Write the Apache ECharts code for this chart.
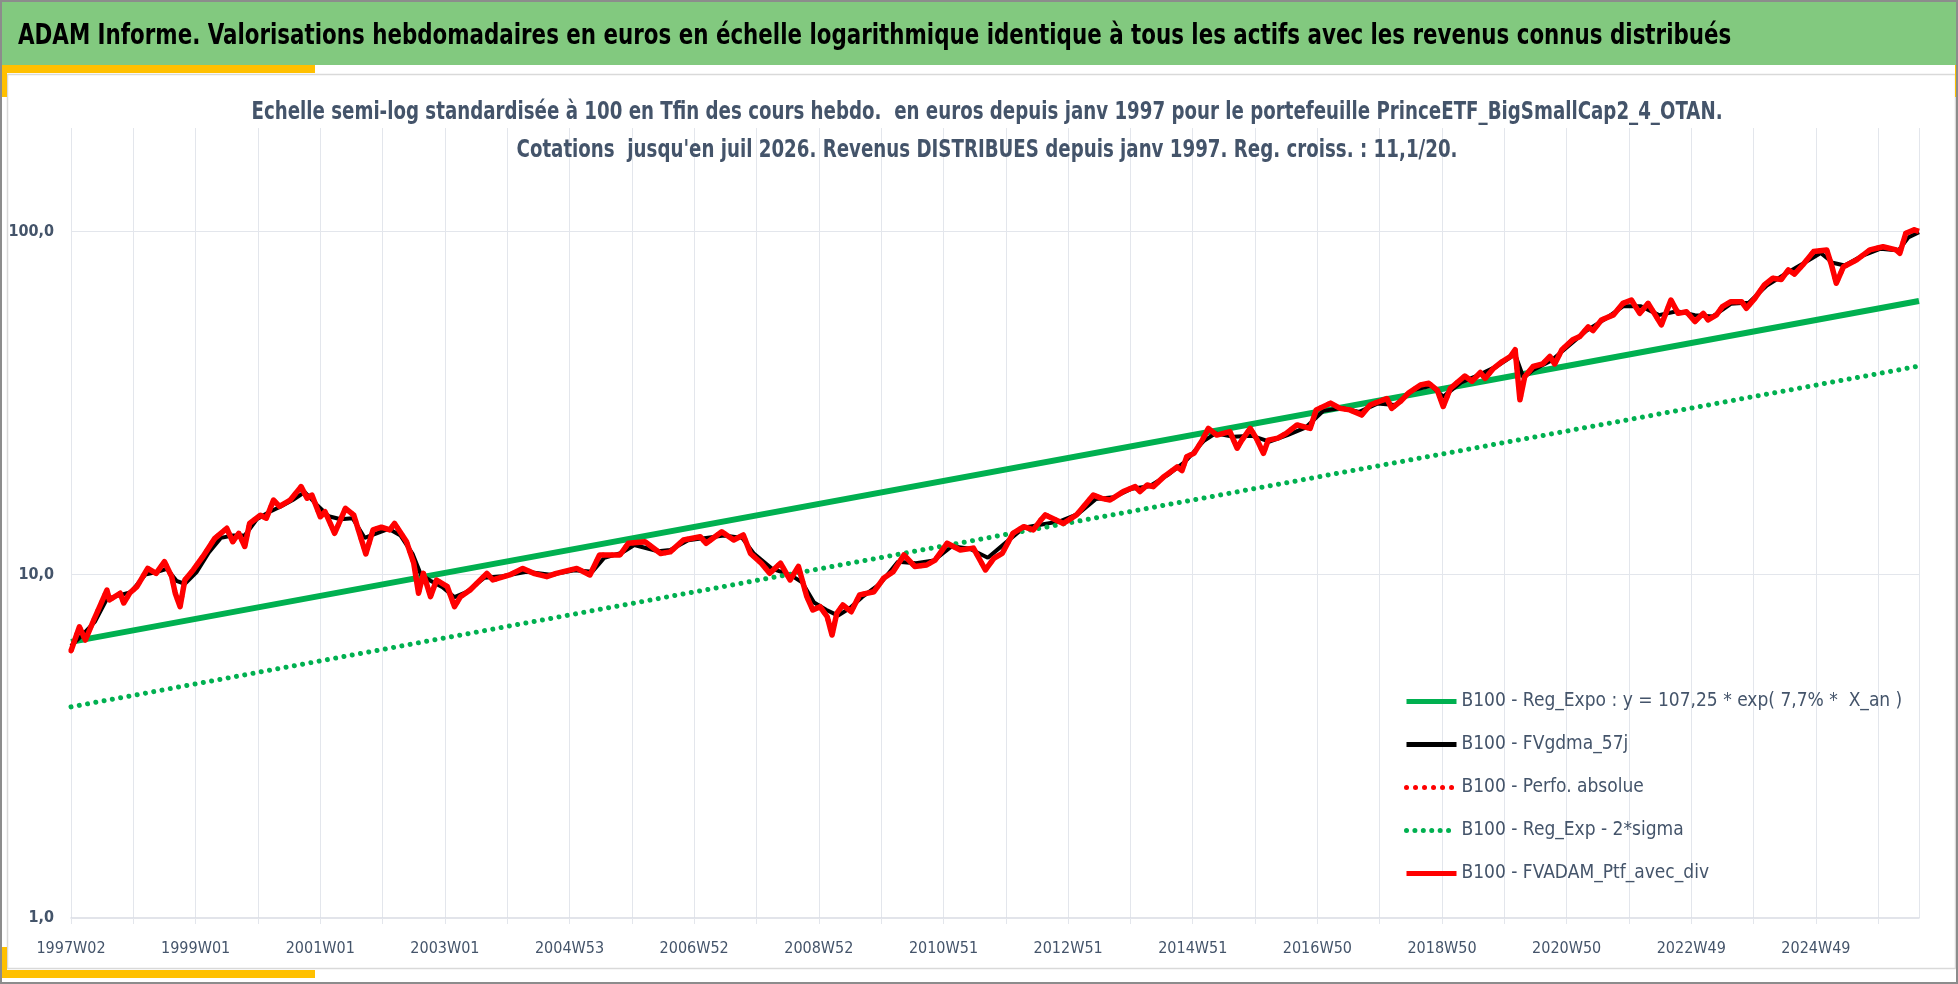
<!DOCTYPE html>
<html>
<head>
<meta charset="utf-8">
<script src="https://cdn.jsdelivr.net/npm/echarts@6/dist/echarts.min.js"></script>
<style>
  html, body { margin: 0; padding: 0; background: #fff; }
  #chart { width: 1958px; height: 984px; }
</style>
</head>
<body>
<div id="chart"></div>
<script>
// x = weeks since 1997W02, y = base 100 at the end (log scale)
const tickLabels = ['1997W02', '1999W01', '2001W01', '2003W01', '2004W53', '2006W52', '2008W52',
  '2010W51', '2012W51', '2014W51', '2016W50', '2018W50', '2020W50', '2022W49', '2024W49'];
const lastWeek = 1542;

const regExpo = [[0, 6.37], [1542, 62.7]];
const regExpMinus2Sigma = [[0, 4.12], [1542, 40.5]];

const ptfAvecDiv = [
  [0, 6.0], [7, 7.05], [12, 6.45], [19, 7.38], [30, 9.02], [32, 8.44], [41, 8.83], [44, 8.27],
  [49, 8.84], [55, 9.23], [64, 10.43], [71, 10.09], [78, 10.91], [84, 9.87], [87, 8.83], [91, 8.07],
  [95, 9.65], [102, 10.32], [110, 11.28], [120, 12.76], [130, 13.65], [135, 12.47], [140, 13.2],
  [145, 12.08], [149, 14.1], [158, 14.9], [163, 14.6], [169, 16.5], [174, 15.8], [183, 16.5],
  [192, 18.05], [197, 16.7], [201, 17.06], [208, 14.75], [212, 15.25], [220, 13.2], [229, 15.6],
  [236, 14.9], [246, 11.5], [252, 13.5], [259, 13.75], [266, 13.5], [270, 14.1], [280, 12.47],
  [286, 10.8], [290, 8.83], [294, 10.09], [300, 8.63], [305, 9.65], [314, 9.23], [320, 8.07],
  [325, 8.63], [333, 9.02], [347, 10.09], [352, 9.65], [366, 9.98], [377, 10.43], [386, 10.09],
  [397, 9.87], [405, 10.09], [422, 10.43], [433, 9.98], [441, 11.41], [458, 11.41], [465, 12.34],
  [479, 12.47], [492, 11.53], [500, 11.65], [511, 12.62], [525, 12.9], [530, 12.34], [543, 13.34],
  [553, 12.62], [561, 13.05], [567, 11.53], [576, 10.8], [583, 10.09], [592, 10.8], [600, 9.65],
  [607, 10.57], [614, 8.63], [619, 7.89], [625, 8.07], [631, 7.54], [635, 6.67], [639, 7.72],
  [644, 8.16], [651, 7.8], [658, 8.73], [670, 8.92], [678, 9.76], [686, 10.2], [695, 11.41],
  [704, 10.57], [714, 10.67], [721, 11.03], [731, 12.34], [742, 11.8], [753, 11.95], [763, 10.32],
  [770, 11.16], [777, 11.53], [786, 13.2], [795, 13.8], [803, 13.5], [809, 14.4], [813, 14.93],
  [828, 14.1], [839, 14.93], [846, 15.96], [853, 17.06], [860, 16.68], [867, 16.5], [878, 17.46],
  [888, 18.05], [892, 17.46], [898, 18.25], [903, 18.05], [912, 19.3], [923, 20.6], [927, 20.1],
  [931, 22.06], [937, 22.56], [944, 24.66], [949, 26.67], [956, 25.5], [967, 26.1], [973, 23.35],
  [977, 24.66], [984, 26.67], [989, 24.98], [995, 22.56], [999, 24.66], [1007, 24.98], [1014, 25.8],
  [1023, 27.3], [1034, 26.67], [1039, 30.2], [1051, 31.6], [1059, 30.5], [1067, 30.2], [1077, 29.2],
  [1084, 31.2], [1098, 32.6], [1102, 30.5], [1109, 31.9], [1116, 33.8], [1126, 35.7], [1133, 36.1],
  [1140, 34.5], [1145, 30.9], [1151, 34.9], [1163, 37.9], [1169, 36.6], [1176, 38.8], [1180, 37.3],
  [1187, 39.9], [1194, 41.7], [1201, 43.2], [1205, 45.2], [1209, 32.3], [1213, 37.7], [1220, 40.4],
  [1228, 41.1], [1234, 43.2], [1238, 41.1], [1244, 45.2], [1253, 48.3], [1259, 49.4], [1266, 52.7],
  [1270, 51.4], [1277, 55.2], [1287, 57.1], [1295, 61.7], [1302, 63.1], [1309, 57.7], [1316, 61.7],
  [1327, 53.4], [1335, 63.1], [1341, 57.7], [1348, 58.3], [1355, 54.6], [1362, 57.7], [1366, 55.2],
  [1373, 57.1], [1378, 60.4], [1385, 62.4], [1394, 62.4], [1398, 59.7], [1405, 63.8], [1413, 69.8],
  [1420, 73.0], [1427, 72.4], [1433, 77.2], [1438, 75.1], [1445, 79.8], [1454, 87.3], [1465, 88.3],
  [1469, 79.8], [1473, 70.6], [1479, 78.9], [1490, 82.6], [1501, 88.3], [1512, 90.2], [1523, 88.3],
  [1526, 86.3], [1531, 98.7], [1538, 101], [1542, 100]
];

const gdma57j = [
  [0, 6.2], [10, 6.7], [20, 7.3], [30, 8.5], [40, 8.7], [50, 8.9], [62, 10.0], [72, 10.2], [80, 10.4],
  [88, 9.6], [95, 9.4], [105, 10.2], [115, 11.6], [125, 12.8], [135, 13.0], [145, 13.0], [155, 14.5],
  [165, 15.2], [175, 15.8], [185, 16.5], [195, 17.4], [205, 16.0], [215, 14.8], [225, 14.5], [235, 14.6],
  [245, 12.8], [255, 13.2], [265, 13.6], [275, 13.0], [285, 11.5], [292, 10.0], [300, 9.6], [310, 9.2],
  [320, 8.6], [330, 8.9], [345, 9.8], [360, 9.9], [380, 10.2], [400, 10.0], [420, 10.3], [435, 10.2],
  [445, 11.2], [460, 11.6], [470, 12.2], [490, 11.7], [500, 11.8], [515, 12.6], [530, 12.8], [545, 13.0],
  [560, 12.8], [570, 11.5], [585, 10.4], [600, 10.0], [610, 9.5], [620, 8.3], [630, 7.9], [640, 7.6],
  [650, 8.0], [660, 8.6], [675, 9.4], [690, 10.9], [705, 10.8], [720, 11.0], [735, 12.1], [750, 11.9],
  [765, 11.2], [780, 12.4], [795, 13.7], [810, 14.0], [825, 14.3], [840, 15.0], [855, 16.6], [870, 16.8],
  [885, 17.8], [900, 18.1], [915, 19.5], [930, 21.4], [945, 24.5], [955, 25.8], [970, 25.2], [985, 25.4],
  [1000, 24.4], [1015, 25.5], [1030, 26.8], [1045, 30.0], [1060, 30.6], [1075, 29.8], [1090, 31.5],
  [1105, 31.2], [1120, 34.5], [1135, 35.5], [1145, 33.0], [1160, 36.3], [1175, 38.2], [1190, 40.5],
  [1205, 43.8], [1212, 37.5], [1220, 39.5], [1235, 42.0], [1250, 46.5], [1265, 51.5], [1280, 55.5],
  [1295, 60.5], [1310, 60.5], [1325, 57.0], [1340, 58.5], [1355, 57.0], [1370, 56.5], [1385, 61.5],
  [1400, 62.0], [1415, 69.5], [1430, 75.0], [1445, 80.5], [1460, 86.5], [1470, 81.0], [1480, 79.5],
  [1495, 85.0], [1510, 89.0], [1525, 88.0], [1533, 96.0], [1542, 99.5]
];

const seriesNames = [
  'B100 - Reg_Expo : y = 107,25 * exp( 7,7% *  X_an )',
  'B100 - FVgdma_57j',
  'B100 - Perfo. absolue',
  'B100 - Reg_Exp - 2*sigma',
  'B100 - FVADAM_Ptf_avec_div'
];

const mainTitle = 'ADAM Informe. Valorisations hebdomadaires en euros en échelle logarithmique identique à tous les actifs avec les revenus connus distribués';
const subTitle1 = 'Echelle semi-log standardisée à 100 en Tfin des cours hebdo.  en euros depuis janv 1997 pour le portefeuille PrinceETF_BigSmallCap2_4_OTAN.';
const subTitle2 = "Cotations  jusqu'en juil 2026. Revenus DISTRIBUES depuis janv 1997. Reg. croiss. : 11,1/20.";

const FONT = '"DejaVu Sans Condensed", "DejaVu Sans", sans-serif';
const SLATE = '#44546a';
const GREEN = '#00b050';
const GRID = '#e3e6ec';

// narrow text: the original uses a condensed face, so we squeeze horizontally
function squeezedText(text, x, y, size, color, align, sx) {
  return {
    type: 'text', x: x, y: y, scaleX: sx, silent: true, z: 10,
    style: {
      text: text, fill: color,
      font: 'bold ' + size + 'px ' + FONT,
      align: align, verticalAlign: 'middle',
      textAlign: align, textVerticalAlign: 'middle'
    }
  };
}

const chart = echarts.init(document.getElementById('chart'), null, { renderer: 'canvas' });

chart.setOption({
  animation: false,
  backgroundColor: '#ffffff',
  graphic: [
    { type: 'rect', z: -10, silent: true, shape: { x: 1, y: 1, width: 1956, height: 64 }, style: { fill: '#82c97f' } },
    { type: 'rect', z: -10, silent: true, shape: { x: 7.5, y: 74.5, width: 1948, height: 894 }, style: { fill: 'none', stroke: '#d9d9d9', lineWidth: 1.5 } },
    { type: 'rect', z: -9, silent: true, shape: { x: 0, y: 65, width: 315, height: 8 }, style: { fill: '#ffc000' } },
    { type: 'rect', z: -9, silent: true, shape: { x: 0, y: 65, width: 7, height: 32 }, style: { fill: '#ffc000' } },
    { type: 'rect', z: -9, silent: true, shape: { x: 1955, y: 65, width: 3, height: 32 }, style: { fill: '#ffc000' } },
    { type: 'rect', z: -9, silent: true, shape: { x: 0, y: 970, width: 315, height: 8 }, style: { fill: '#ffc000' } },
    { type: 'rect', z: -9, silent: true, shape: { x: 0, y: 947, width: 7, height: 31 }, style: { fill: '#ffc000' } },
    { type: 'rect', z: -8, silent: true, shape: { x: 1, y: 1, width: 1956, height: 982 }, style: { fill: 'none', stroke: '#8c8c8c', lineWidth: 2 } },
    squeezedText(mainTitle, 18, 36, 29, '#000000', 'left', 0.82),
    squeezedText(subTitle1, 987, 112.5, 25, SLATE, 'center', 0.81),
    squeezedText(subTitle2, 987, 150, 25, SLATE, 'center', 0.81)
  ],
  grid: { left: 71, right: 39, top: 128, bottom: 66, containLabel: false },
  legend: {
    orient: 'vertical',
    left: 1399, top: 687,
    itemWidth: 50, itemHeight: 14, itemGap: 24,
    itemStyle: { color: 'rgba(0,0,0,0)', opacity: 0, borderWidth: 0 },
    lineStyle: { width: 5 },
    textStyle: { fontFamily: FONT, fontSize: 19, color: SLATE },
    data: seriesNames
  },
  xAxis: {
    type: 'value',
    min: 0, max: lastWeek, interval: 52,
    axisLine: { show: true, lineStyle: { color: '#d9dce3', width: 1.5 } },
    axisTick: { show: true, length: 6, lineStyle: { color: GRID } },
    splitLine: { show: true, lineStyle: { color: GRID, width: 1 } },
    axisLabel: {
      margin: 23,
      fontFamily: FONT, fontSize: 16, color: SLATE,
      showMaxLabel: false,
      formatter: v => (v % 104 === 0 && tickLabels[v / 104]) ? tickLabels[v / 104] : ''
    }
  },
  yAxis: {
    type: 'log', logBase: 10,
    min: 1, max: 200,
    axisLine: { show: false },
    axisTick: { show: false },
    splitLine: { show: false },
    axisLabel: {
      margin: 17,
      fontFamily: FONT, fontSize: 16, fontWeight: 'bold', color: SLATE,
      formatter: v => {
        const e = Math.log10(v);
        return Math.abs(e - Math.round(e)) < 1e-6 ? v.toFixed(1).replace('.', ',') : '';
      }
    }
  },
  series: [
    {
      name: seriesNames[0],
      type: 'line', data: regExpo, showSymbol: false, symbol: 'none', silent: true,
      lineStyle: { color: GREEN, width: 6 }, itemStyle: { color: GREEN },
      markLine: {
        silent: true, symbol: 'none', label: { show: false },
        lineStyle: { color: GRID, width: 1, type: 'solid' },
        data: [{ yAxis: 10 }, { yAxis: 100 }],
        z: 0
      }
    },
    {
      name: seriesNames[1],
      type: 'line', data: gdma57j, showSymbol: false, symbol: 'none', silent: true,
      lineStyle: { color: '#000000', width: 4 }, itemStyle: { color: '#000000' }
    },
    {
      name: seriesNames[2],
      type: 'line', data: ptfAvecDiv, showSymbol: false, symbol: 'none', silent: true,
      lineStyle: { color: '#ff0000', width: 5, type: [0.01, 9], cap: 'round' }, itemStyle: { color: '#ff0000' }
    },
    {
      name: seriesNames[3],
      type: 'line', data: regExpMinus2Sigma, showSymbol: false, symbol: 'none', silent: true,
      lineStyle: { color: GREEN, width: 5, type: [0.01, 8.4], cap: 'round' }, itemStyle: { color: GREEN }
    },
    {
      name: seriesNames[4],
      type: 'line', data: ptfAvecDiv, showSymbol: false, symbol: 'none', silent: true,
      lineStyle: { color: '#ff0000', width: 5.5, join: 'round' }, itemStyle: { color: '#ff0000' }
    }
  ]
});
</script>
</body>
</html>
